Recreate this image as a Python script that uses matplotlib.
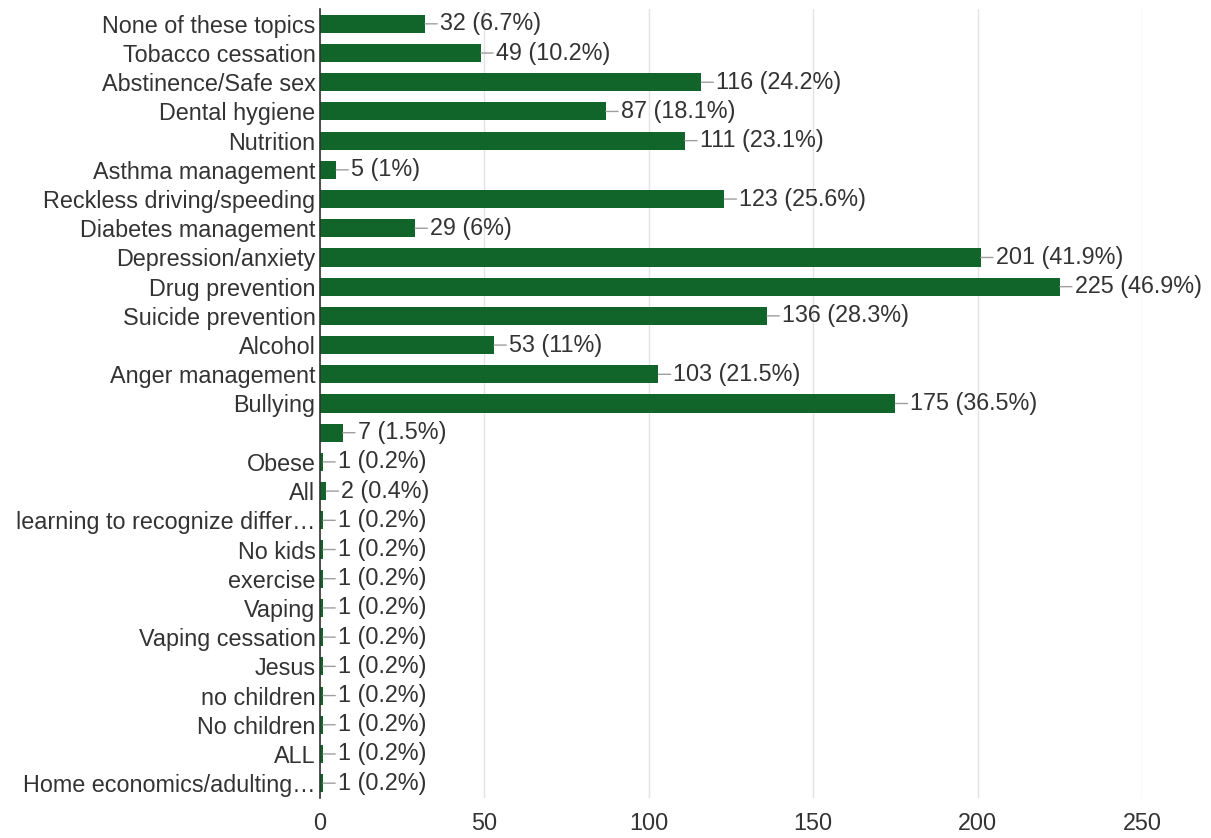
import matplotlib.pyplot as plt

plt.rcParams['font.family'] = ['Liberation Sans', 'DejaVu Sans']

topics = ["None of these topics", "Tobacco cessation", "Abstinence/Safe sex",
          "Dental hygiene", "Nutrition", "Asthma management",
          "Reckless driving/speeding", "Diabetes management", "Depression/anxiety",
          "Drug prevention", "Suicide prevention", "Alcohol", "Anger management",
          "Bullying", "", "Obese", "All", "learning to recognize differ\u2026",
          "No kids", "exercise", "Vaping", "Vaping cessation", "Jesus",
          "no children", "No children", "ALL", "Home economics/adulting\u2026"]
counts = [32, 49, 116, 87, 111, 5, 123, 29, 201, 225, 136, 53, 103, 175, 7,
          1, 2, 1, 1, 1, 1, 1, 1, 1, 1, 1, 1]
percents = ["6.7", "10.2", "24.2", "18.1", "23.1", "1", "25.6", "6", "41.9",
            "46.9", "28.3", "11", "21.5", "36.5", "1.5", "0.2", "0.4", "0.2",
            "0.2", "0.2", "0.2", "0.2", "0.2", "0.2", "0.2", "0.2", "0.2"]
x_ticks = [0, 50, 100, 150, 200, 250]

bar_color = "#11652a"
text_color = "#333333"
fsize = 16.8

fig = plt.figure(figsize=(12.11, 8.38), dpi=100)
ax = fig.add_axes([0.264, 0.048, 0.679, 0.941])

rows = list(range(len(topics)))
ax.barh(rows, counts, height=0.62, color=bar_color, zorder=3)
ax.set_ylim(len(topics) - 0.5, -0.5)
ax.set_xlim(0, 250)

ax.set_yticks(rows)
ax.set_yticklabels(topics, fontsize=fsize, color=text_color)
ax.set_xticks(x_ticks)
ax.set_xticklabels([str(t) for t in x_ticks], fontsize=fsize, color=text_color)
ax.tick_params(axis='y', length=0, pad=3)
ax.tick_params(axis='x', length=0, pad=10)

ax.grid(axis='x', color='#e3e3e3', linewidth=1, zorder=0)
for side in ['top', 'right', 'bottom']:
    ax.spines[side].set_visible(False)
ax.spines['left'].set_color('#333333')
ax.spines['left'].set_linewidth(1.2)
ax.spines['left'].set_zorder(4)

for row, count, pct in zip(rows, counts, percents):
    ax.annotate(f"{count} ({pct}%)", xy=(count, row), xytext=(15, 0),
                textcoords='offset pixels', va='center', ha='left',
                fontsize=fsize, color=text_color, annotation_clip=False,
                arrowprops=dict(arrowstyle='-', color='#9e9e9e', lw=1,
                                shrinkA=0, shrinkB=0))

fig.savefig("out.png", dpi=100)
